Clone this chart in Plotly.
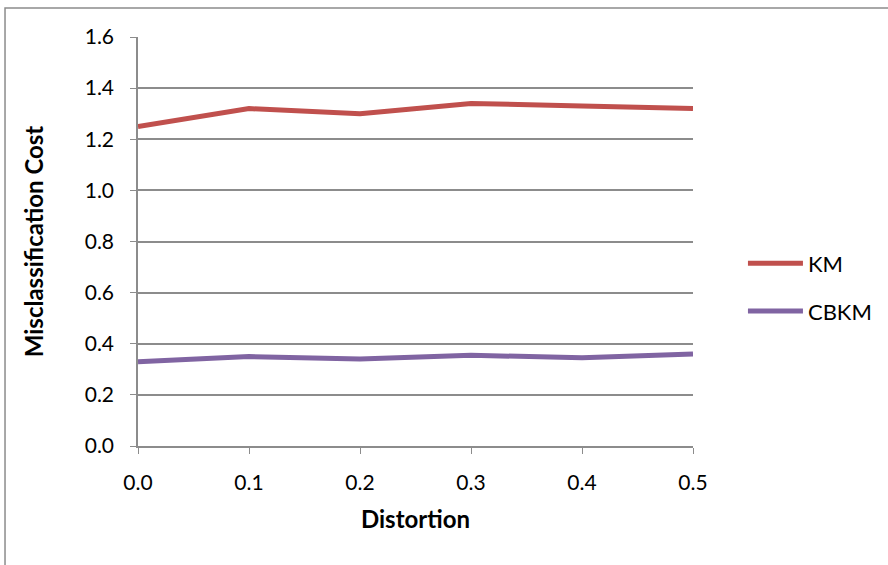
import plotly.graph_objects as go

# Distortion levels and misclassification cost per method
distortion = [0.0, 0.1, 0.2, 0.3, 0.4, 0.5]
km_cost = [1.25, 1.32, 1.30, 1.34, 1.33, 1.32]
cbkm_cost = [0.33, 0.35, 0.34, 0.355, 0.345, 0.36]

y_ticks = [0.0, 0.2, 0.4, 0.6, 0.8, 1.0, 1.2, 1.4, 1.6]
x_ticks = distortion

FONT = "Lato, Carlito, Calibri, sans-serif"
FS = 21
TITLE_FS = 24
GRID = "#8c8c8c"

fig = go.Figure()
fig.add_trace(go.Scatter(x=distortion, y=km_cost, mode="lines", name="KM",
                         legendgroup="km",
                         line=dict(color="#C0504D", width=5)))
fig.add_trace(go.Scatter(x=distortion, y=cbkm_cost, mode="lines", name="CBKM",
                         legendgroup="cbkm",
                         line=dict(color="#8064A2", width=5)))

fig.update_layout(
    width=888, height=565,
    margin=dict(l=138, r=195, t=37, b=119, autoexpand=False),
    paper_bgcolor="white", plot_bgcolor="white",
    font=dict(family=FONT, size=FS, color="black"),
    showlegend=True,
    legend=dict(x=1.09, xanchor="left", y=0.3875, yanchor="middle",
                xref="paper", yref="paper",
                traceorder="grouped", tracegroupgap=16,
                itemwidth=55, font=dict(family=FONT, size=22),
                bgcolor="rgba(0,0,0,0)"),
    xaxis=dict(range=[0, 0.5], tickvals=x_ticks,
               ticktext=[f"{v:.1f}" for v in x_ticks],
               showgrid=False, zeroline=False,
               showline=True, linecolor=GRID, linewidth=1.5,
               ticks="outside", ticklen=6, tickcolor=GRID,
               ticklabelstandoff=11,
               title=dict(text="<b>Distortion</b>", standoff=18,
                          font=dict(family=FONT, size=TITLE_FS))),
    yaxis=dict(range=[0, 1.6], tickvals=y_ticks,
               ticktext=[f"{v:.1f}" for v in y_ticks],
               showgrid=True, gridcolor=GRID, gridwidth=1.5,
               zeroline=False,
               showline=True, linecolor=GRID, linewidth=1.5,
               ticks="outside", ticklen=6, tickcolor=GRID,
               ticklabelstandoff=12,
               title=dict(text="<b>Misclassification Cost</b>", standoff=34,
                          font=dict(family=FONT, size=TITLE_FS))),
)

# Chart-area frame
fig.add_shape(type="rect", xref="paper", yref="paper",
              x0=-0.2396, x1=2.0, y0=-1.0, y1=1.0709,
              line=dict(color="#8c8c8c", width=1.5), layer="below")

fig.write_html("out.html")
